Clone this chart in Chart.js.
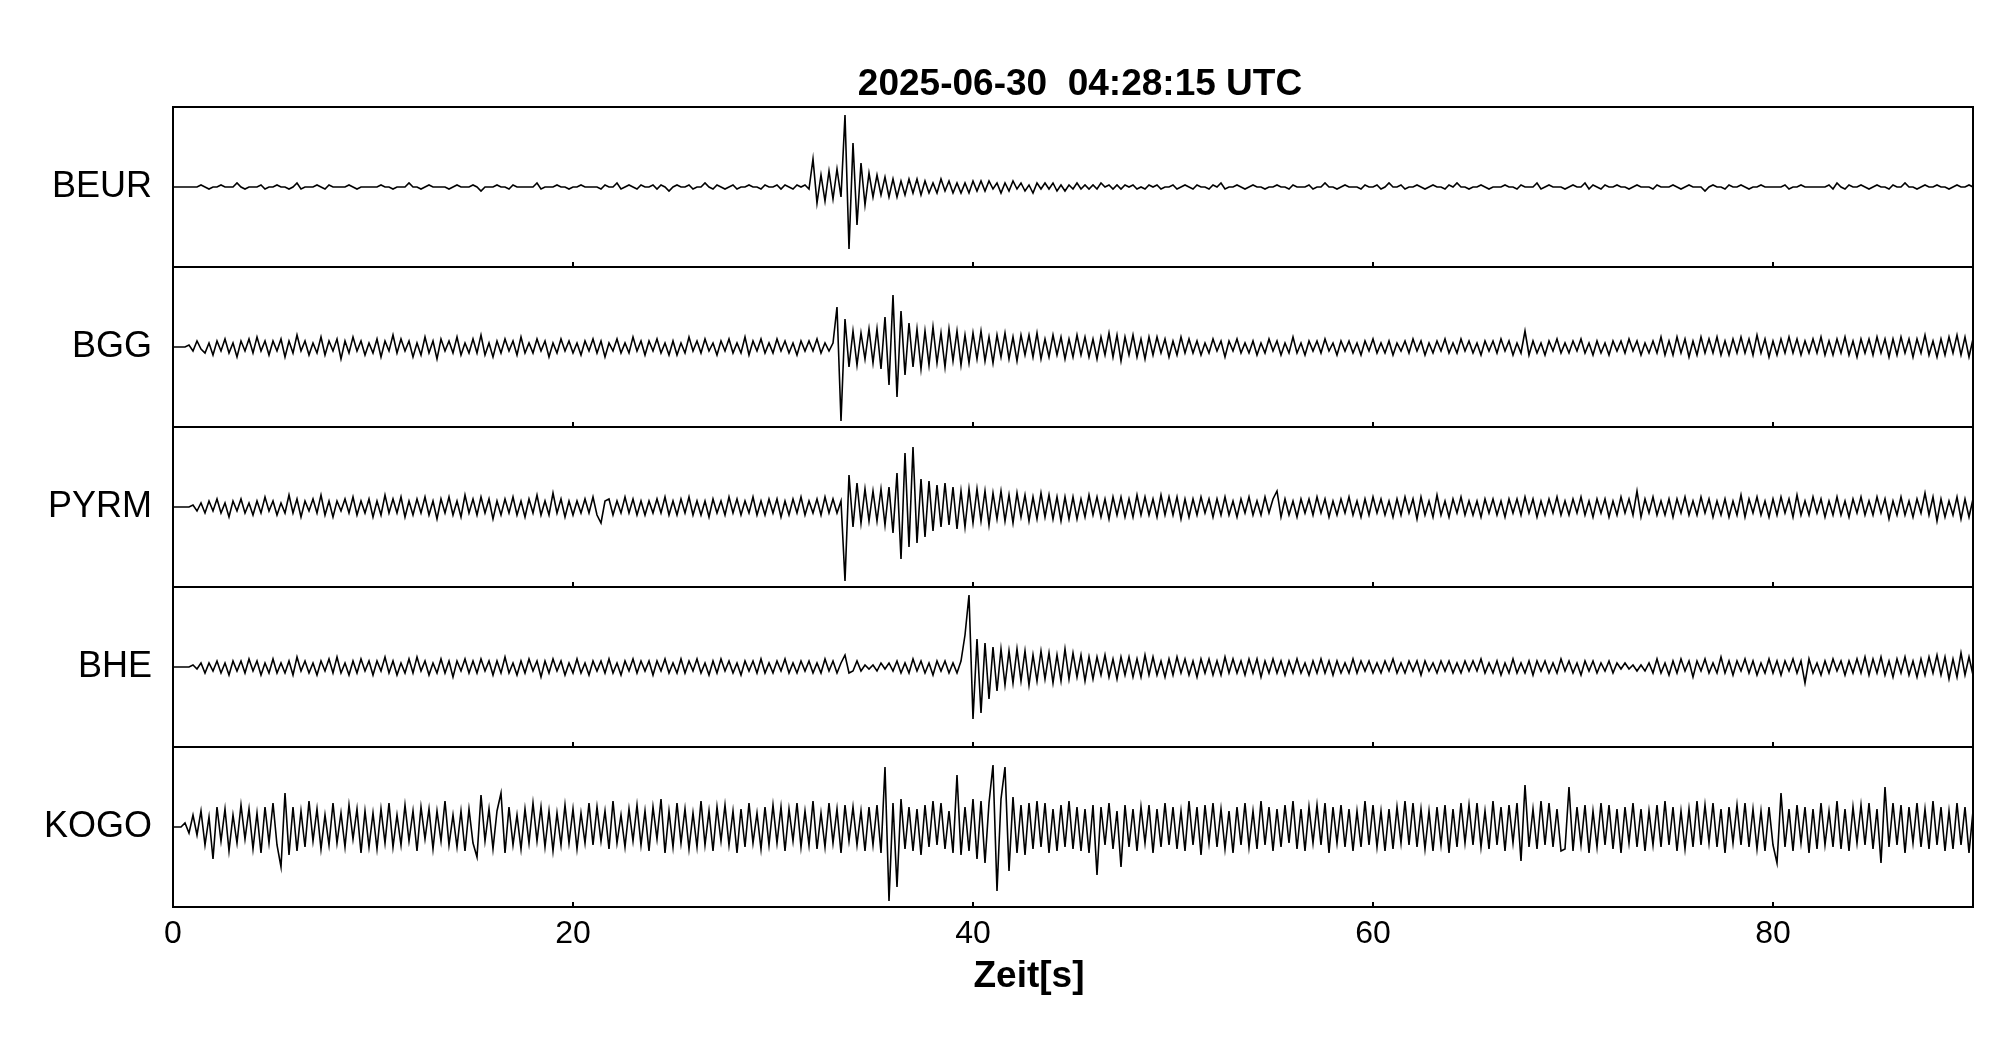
<!DOCTYPE html>
<html>
<head>
<meta charset="utf-8">
<script src="https://cdn.jsdelivr.net/npm/chart.js@4.4.1/dist/chart.umd.min.js"></script>
<style>
  html, body { margin: 0; padding: 0; background: #fff; }
  canvas { display: block; }
</style>
</head>
<body>
<canvas id="seismo" width="2005" height="1041"></canvas>
<script>
// Event header and station names
const titleText = '2025-06-30  04:28:15 UTC';
const xTitle = 'Zeit[s]';
const stations = ['BEUR', 'BGG', 'PYRM', 'BHE', 'KOGO'];
const xTicks = [0, 20, 40, 60, 80];
const sampleStep = 0.2; // seconds between samples

// Trace amplitudes (one row = 5 s)
const beur = [
  0,0,0,0,0,  0,0,1,0,-1,  0,0,1,0,0,  0,2,0,-1,0,  0,0,1,-1,0,
  0,1,0,0,-1,  0,2,-1,0,0,  0,1,0,-1,1,  0,0,0,0,1,  0,-1,0,0,0,
  0,0,1,0,0,  -1,0,0,0,2,  0,0,-1,0,1,  0,0,0,0,-1,  0,1,0,0,0,
  1,0,-2,0,0,  0,1,0,0,-1,  1,0,0,0,0,  0,2,-1,0,0,  0,1,0,0,-1,
  0,0,1,0,0,  0,0,-1,1,0,  0,2,-1,0,1,  0,-1,1,0,0,  1,-1,1,0,-2,
  0,1,0,0,1,  -1,0,0,2,0,  -1,1,0,-1,0,  1,-1,0,0,1,  0,0,-1,1,0,
  0,1,-1,1,0,  -1,1,0,1,-1,  14,-8,6,-7,8,  -6,9,-5,36,-31,  22,-19,12,-9,7,
  -5,6,-4,5,-5,  4,-5,3,-4,4,  -3,4,-4,3,-3,  2,-3,4,-2,3,  -3,2,-3,2,-3,
  3,-2,3,-2,3,  -1,2,-3,2,-2,  3,-1,2,-2,1,  -3,2,-1,2,-1,  2,-2,1,-2,1,
  -1,2,-1,1,-1,  1,-1,2,0,1,  -1,1,-1,1,0,  1,-1,0,-1,1,  0,1,-1,0,0,
  1,-1,0,1,0,  -1,1,0,0,-1,  1,0,2,-1,0,  0,1,0,-1,0,  1,0,0,-1,0,
  0,1,0,0,-1,  1,0,0,0,1,  -1,0,0,2,0,  0,-1,0,1,0,  0,0,-1,1,0,
  0,1,-1,0,2,  0,0,1,-1,0,  0,1,0,-1,0,  1,0,0,-1,1,  0,2,0,0,-1,
  0,0,1,0,-1,  0,0,0,1,0,  0,-1,1,0,0,  0,2,-1,0,1,  0,0,0,-1,0,
  1,0,0,2,-1,  1,0,-1,1,0,  0,1,0,0,-1,  0,1,0,0,0,  -1,1,0,0,0,
  1,0,-1,0,1,  0,0,0,-2,0,  1,0,0,-1,1,  0,0,1,0,-1,  0,0,1,0,0,
  0,0,0,1,-1,  0,0,1,0,0,  0,0,0,0,1,  -1,2,0,-1,1,  0,0,1,0,-1,
  0,1,0,0,-1,  1,0,0,2,0,  0,-1,0,1,0,  0,1,0,0,-1,  0,1,0,0,1,
  0
];

const bgg = [
  0,0,0,0,1,  -2,3,-1,-3,2,  -4,3,-2,4,-3,  2,-5,3,-2,4,  -3,5,-2,3,-4,
  3,-2,4,-5,3,  -3,6,-2,3,-4,  2,-3,5,-4,3,  -2,4,-6,3,-3,  5,-2,3,-4,2,
  -3,4,-5,3,-2,  6,-3,4,-2,3,  -5,2,-4,5,-3,  3,-6,4,-2,3,  -3,5,-4,2,-3,
  4,-3,6,-4,2,  -5,3,-3,4,-2,  3,-4,5,-3,2,  -3,4,-2,3,-5,  2,-3,4,-2,3,
  -3,2,-4,3,-2,  4,-3,3,-5,2,  -2,4,-3,2,-3,  5,-2,3,-4,3,  -2,4,-3,2,-4,
  3,-4,2,-3,5,  -2,3,-3,4,-2,  2,-4,3,-2,4,  -3,2,-3,5,-4,  3,-2,4,-3,2,
  -3,4,-2,3,-3,  2,-4,3,-2,3,  -2,4,-3,2,-2,  2,20,-37,14,-10,  8,-9,7,-6,9,
  -8,9,-11,15,-19,  26,-25,18,-14,12,  -10,9,-11,8,-9,  10,-8,7,-10,9,  -7,8,-9,6,-8,
  7,-6,8,-7,5,  -8,6,-5,7,-6,  5,-7,6,-4,6,  -5,7,-6,4,-5,  6,-4,5,-6,4,
  -5,6,-4,5,-5,  4,-6,5,-4,7,  -5,6,-7,5,-4,  6,-5,4,-6,5,  -4,5,-3,4,-5,
  3,-4,5,-3,4,  -3,3,-4,2,-3,  4,-2,3,-5,3,  -2,4,-3,2,-3,  3,-4,2,-3,4,
  -2,3,-4,2,-3,  5,-3,2,-4,3,  -2,3,-3,4,-2,  2,-4,3,-2,3,  -3,2,-4,3,-2,
  4,-3,2,-3,3,  -4,2,-2,3,-3,  4,-2,3,-4,2,  -3,3,-2,4,-3,  2,-3,4,-2,3,
  -3,2,-4,3,-2,  3,-3,4,-2,3,  -4,2,-3,8,-4,  3,-3,2,-4,3,  -2,4,-3,2,-3,
  3,-2,4,-3,2,  -4,3,-3,2,-4,  3,-2,3,-3,4,  -2,3,-4,2,-3,  3,-3,5,-4,3,
  -4,5,-3,4,-5,  3,-4,5,-3,4,  -3,5,-4,3,-4,  4,-3,5,-3,4,  -4,6,-3,4,-5,
  3,-4,4,-3,5,  -3,4,-4,3,-3,  4,-3,5,-4,3,  -4,4,-3,5,-4,  3,-5,4,-3,4,
  -4,5,-3,4,-5,  4,-4,5,-3,4,  -5,4,-3,6,-4,  3,-5,4,-4,5,  -3,6,-4,5,-5,
  4
];

const pyrm = [
  0,0,0,0,0,  1,-2,2,-3,3,  -2,4,-3,2,-5,  3,-2,4,-3,2,  -4,3,-3,5,-2,
  3,-4,2,-3,6,  -3,4,-5,3,-2,  4,-3,6,-4,3,  -5,3,-2,4,-3,  5,-4,3,-3,4,
  -5,3,-4,6,-3,  4,-3,5,-5,3,  -4,4,-3,5,-4,  3,-6,4,-3,5,  -4,3,-5,6,-3,
  4,-4,5,-3,4,  -6,3,-4,4,-3,  5,-4,3,-5,4,  -3,6,-4,3,-4,  7,-3,4,-5,3,
  -4,3,-3,4,-3,  5,-4,-8,3,4,  -4,3,-3,5,-3,  4,-4,3,-4,3,  -3,4,-3,5,-4,
  3,-4,4,-3,5,  -4,3,-4,3,-5,  4,-3,3,-4,5,  -3,4,-4,3,-3,  5,-4,3,-4,4,
  -3,4,-5,3,-4,  4,-3,5,-4,3,  -3,4,-4,5,-3,  4,-3,3,-37,16,  -10,12,-8,9,-7,
  8,-7,9,-9,10,  -13,17,-26,27,-20,  30,-18,14,-15,13,  -12,11,-10,12,-9,  10,-11,8,-10,9,
  -8,9,-7,8,-9,  7,-6,8,-7,6,  -8,7,-5,6,-7,  5,-6,7,-5,6,  -6,5,-7,5,-6,
  5,-6,4,-5,6,  -4,5,-5,4,-6,  5,-4,5,-5,4,  -5,6,-4,5,-4,  4,-5,6,-4,5,
  -4,5,-6,4,-5,  4,-4,5,-3,4,  -5,4,-4,5,-4,  3,-5,4,-3,5,  -4,3,-4,5,-3,
  4,8,-5,4,-4,  3,-5,4,-3,4,  -4,5,-3,4,-5,  3,-4,4,-3,5,  -4,3,-5,4,-4,
  5,-3,4,-4,3,  -5,4,-4,5,-3,  4,-6,5,-4,3,  -5,6,-4,3,-5,  4,-3,5,-4,3,
  -4,3,-5,4,-3,  4,-4,3,-5,4,  -3,4,-4,5,-3,  4,-5,3,-4,4,  -3,5,-4,3,-4,
  4,-3,5,-4,3,  -5,4,-3,4,-5,  3,-4,5,-3,4,  -4,8,-5,4,-3,  5,-4,3,-4,4,
  -5,4,-3,5,-4,  3,-4,5,-3,4,  -5,3,-4,4,-5,  3,-4,6,-5,4,  -3,5,-4,3,-5,
  4,-4,5,-3,4,  -5,6,-4,3,-4,  5,-3,4,-5,3,  -4,5,-4,3,-5,  4,-3,5,-4,3,
  -4,5,-3,4,-6,  3,-4,5,-4,3,  -5,4,-3,7,-4,  5,-7,4,-5,3,  -4,5,-6,4,-5,
  4
];

const bhe = [
  0,0,0,0,0,  1,-1,2,-3,2,  -2,3,-3,2,-4,  3,-2,3,-3,4,  -2,3,-4,2,-3,
  4,-3,2,-3,3,  -4,5,-2,3,-3,  2,-4,3,-2,4,  -3,5,-3,2,-4,  3,-3,4,-2,3,
  -4,3,-2,5,-3,  3,-4,2,-3,4,  -3,5,-2,3,-4,  2,-3,4,-3,3,  -5,3,-2,4,-3,
  3,-3,4,-2,3,  -4,3,-3,5,-3,  2,-4,3,-3,4,  -2,3,-5,3,-3,  4,-2,3,-4,2,
  -3,4,-3,2,-4,  3,-2,3,-3,4,  -3,2,-4,3,-2,  4,-3,3,-2,3,  -4,3,-2,4,-3,
  2,-3,4,-3,3,  -2,4,-3,2,-4,  3,-3,4,-2,3,  -3,2,-4,3,-2,  3,-3,4,-3,2,
  -3,3,-2,4,-3,  2,-3,3,-2,3,  -3,2,-3,4,-2,  3,-3,2,6,-3,  -2,3,-2,1,-1,
  1,-2,2,-1,2,  -2,3,-3,2,-3,  4,-2,3,-3,2,  -4,3,-2,3,-3,  2,-3,3,16,36,
  -26,14,-23,12,-16,  10,-12,9,-9,8,  -8,9,-7,8,-9,  6,-7,8,-6,7,  -8,6,-7,9,-6,
  7,-5,6,-7,5,  -6,5,-4,6,-5,  4,-6,5,-4,5,  -5,4,-5,6,-4,  5,-4,3,-5,4,
  -4,5,-3,4,-4,  3,-5,4,-3,4,  -4,3,-4,5,-3,  4,-3,3,-4,4,  -3,4,-5,3,-3,
  4,-3,3,-4,3,  -3,4,-3,2,-4,  3,-3,4,-3,3,  -4,3,-3,2,-3,  4,-3,3,-2,3,
  -3,2,-3,3,-2,  4,-3,2,-3,3,  -2,3,-4,3,-2,  2,-3,3,-2,3,  -3,2,-3,3,-2,
  3,-2,4,-3,2,  -3,3,-4,2,-3,  4,-3,2,-3,3,  -4,3,-2,3,-3,  2,-3,4,-2,3,
  -3,2,-4,3,-2,  3,-3,2,-2,3,  -3,2,-1,2,-1,  1,-2,1,-2,2,  -3,4,-3,2,-4,
  3,-3,4,-2,3,  -5,3,-2,4,-3,  2,-3,5,-3,3,  -4,3,-2,4,-3,  3,-4,2,-3,4,
  -3,3,-4,3,-2,  4,-3,3,-8,4,  -3,2,-4,3,-3,  4,-2,3,-4,3,  -3,4,-3,5,-4,
  4,-3,5,-4,3,  -5,4,-3,5,-4,  3,-5,4,-4,5,  -3,6,-4,5,-6,  4,-5,7,-4,5,
  -4
];

const kogo = [
  0,0,0,2,-3,  6,-4,8,-9,5,  -16,10,-7,9,-12,  6,-8,11,-6,9,  -11,7,-13,10,-8,
  12,-9,-20,17,-14,  10,-12,8,-10,13,  -7,9,-11,6,-9,  12,-8,7,-10,11,  -6,9,-13,8,-10,
  7,-11,9,-8,12,  -10,6,-9,11,-7,  8,-12,10,-6,9,  -11,8,-7,13,-9,  6,-10,8,-12,9,
  -8,-15,16,-7,9,  -11,8,17,-13,10,  -9,6,-11,9,-8,  12,-7,10,-10,8,  -12,7,-9,11,-8,
  9,-11,7,-8,12,  -9,10,-7,8,-11,  13,-8,6,-10,9,  -7,11,-9,8,-12,  10,-6,14,-13,8,
  -10,12,-8,9,-11,  7,-10,13,-9,8,  -12,10,-7,11,-9,  8,-13,9,-10,12,  -8,7,-11,10,-9,
  11,-8,10,-12,9,  -7,12,-10,8,-9,  13,-11,7,-10,12,  -8,9,-13,11,-7,  10,-9,8,-12,10,
  -9,11,-13,30,-37,  12,-30,14,-11,10,  -12,9,-14,11,-10,  13,-9,12,-11,8,  -13,26,-14,10,-12,
  14,-16,13,-18,12,  31,-32,14,30,-22,  15,-13,11,-14,12,  -11,13,-10,12,-13,  9,-12,11,-10,13,
  -11,10,-12,9,-13,  11,-24,10,-9,12,  -11,8,-20,11,-10,  9,-12,10,-8,11,  -13,9,-10,12,-9,
  10,-11,8,-12,13,  -9,10,-14,11,-8,  12,-10,9,-11,8,  -13,10,-9,12,-10,  8,-11,13,-9,10,
  -12,9,-10,11,-8,  13,-11,9,-12,10,  -8,11,-9,12,-13,  10,-8,11,-10,9,  -12,8,-10,13,-9,
  11,-10,8,-12,9,  -11,10,-8,13,-9,  12,-10,9,-11,8,  -12,10,-9,11,-13,  9,-10,12,-8,11,
  -9,12,-10,8,-11,  13,-9,10,-12,11,  -8,12,-17,21,-10,  9,-11,13,-9,12,  -10,9,-12,-11,20,
  -12,10,-9,11,-13,  8,-10,12,-9,11,  -11,9,-13,10,-8,  12,-10,9,-12,8,  -9,11,-10,13,-9,
  10,-12,8,-11,9,  -10,13,-9,11,-8,  12,-10,9,-13,10,  -8,11,-9,12,-10,  9,-11,8,-12,10,
  -9,-18,17,-10,9,  -12,11,-8,10,-13,  9,-11,12,-9,8,  -10,13,-11,9,-12,  10,-8,11,-9,12,
  -11,9,-18,20,-10,  12,-9,11,-13,10,  -8,12,-10,9,-11,  13,-9,10,-12,8,  -11,12,-9,10,-13,
  8
];

const traces = [beur, bgg, pyrm, bhe, kogo];

const font = "'Liberation Sans', Arial, Helvetica, sans-serif";

function toPoints(values) {
  return values.map((v, i) => ({ x: i * sampleStep, y: v }));
}

// one stacked y axis per station, first station on top
const yScales = {};
stations.forEach((name, k) => {
  yScales['y' + k] = {
    type: 'linear',
    position: 'left',
    stack: 'traces',
    stackWeight: 1,
    weight: stations.length - k,
    min: -40,
    max: 40,
    offset: false,
    grid: { display: false, drawTicks: false },
    border: { display: false },
    afterBuildTicks: (scale) => { scale.ticks = [{ value: 0 }]; },
    afterFit: (scale) => { scale.width = 173; },
    ticks: {
      padding: 21,
      color: '#000',
      font: { family: font, size: 36 },
      callback: () => name
    }
  };
});

const framePlugin = {
  id: 'frame',
  afterDraw(chart) {
    const ctx = chart.ctx;
    const xs = chart.scales.x;
    const area = chart.chartArea;
    ctx.save();
    ctx.strokeStyle = '#000';
    ctx.lineWidth = 2;
    stations.forEach((name, k) => {
      const sc = chart.scales['y' + k];
      ctx.strokeRect(area.left, sc.top, area.right - area.left, sc.bottom - sc.top);
      xTicks.forEach(v => {
        if (v === 0) return;
        const px = Math.round(xs.getPixelForValue(v));
        ctx.beginPath();
        ctx.moveTo(px, sc.bottom);
        ctx.lineTo(px, sc.bottom - 5);
        ctx.stroke();
      });
    });
    ctx.fillStyle = '#000';
    ctx.textAlign = 'center';
    ctx.textBaseline = 'alphabetic';
    ctx.font = 'bold 37px ' + font;
    ctx.fillText(titleText, (area.left + area.right) / 2 + 7, 95);
    ctx.fillText(xTitle, (area.left + area.right) / 2 - 44, 987);
    ctx.restore();
  }
};

new Chart(document.getElementById('seismo'), {
  type: 'line',
  data: {
    datasets: traces.map((values, k) => ({
      label: stations[k],
      data: toPoints(values),
      yAxisID: 'y' + k,
      borderColor: '#000',
      borderWidth: 1.6,
      pointRadius: 0,
      tension: 0,
      fill: false
    }))
  },
  options: {
    responsive: false,
    animation: false,
    events: [],
    layout: { padding: { top: 107, right: 32, bottom: 0, left: 0 } },
    plugins: {
      legend: { display: false },
      tooltip: { enabled: false },
      title: { display: false }
    },
    scales: Object.assign({
      x: {
        type: 'linear',
        position: 'bottom',
        min: 0,
        max: 90,
        grid: { display: false, drawTicks: false },
        border: { display: false },
        afterBuildTicks: (scale) => { scale.ticks = xTicks.map(v => ({ value: v })); },
        afterFit: (scale) => { scale.height = 134; },
        ticks: {
          padding: 8,
          color: '#000',
          maxRotation: 0,
          font: { family: font, size: 32 }
        }
      }
    }, yScales)
  },
  plugins: [framePlugin]
});
</script>
</body>
</html>
